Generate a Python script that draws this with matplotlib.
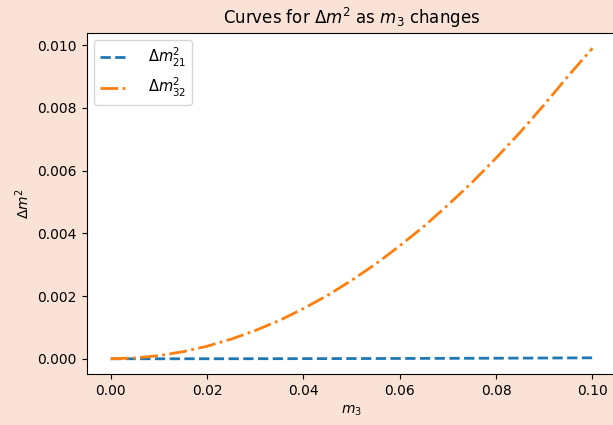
import matplotlib
matplotlib.use('Agg')
import matplotlib.pyplot as plt

# m3 values (x axis) and the two mass-squared differences
m3 = [0.000, 0.005, 0.010, 0.015, 0.020, 0.025, 0.030, 0.035, 0.040, 0.045, 0.050,
      0.055, 0.060, 0.065, 0.070, 0.075, 0.080, 0.085, 0.090, 0.095, 0.100]
dm21 = [0.0, 0.0, 0.0, 0.0, 0.0, 0.000001, 0.000002, 0.000003, 0.000004, 0.000005, 0.000007,
        0.000008, 0.00001, 0.000012, 0.000014, 0.000016, 0.000018, 0.000021, 0.000024, 0.000027, 0.00003]
dm32 = [0.0, 0.000025, 0.0001, 0.000225, 0.0004, 0.000625, 0.0009, 0.00122, 0.0016, 0.00202, 0.0025,
        0.00302, 0.0036, 0.00422, 0.0049, 0.00562, 0.0064, 0.00722, 0.0081, 0.00902, 0.0099]

fig = plt.figure(figsize=(6.13, 4.25), dpi=100, facecolor='#fae3d6')
ax = fig.add_axes([0.1414, 0.1193, 0.8643, 0.8038])

ax.plot(m3, dm21, '--', color='tab:blue', linewidth=2, label=r'$\Delta m^2_{21}$')
ax.plot(m3, dm32, '-.', color='tab:orange', linewidth=2, label=r'$\Delta m^2_{32}$')

ax.set_title(r'Curves for $\Delta m^2$ as $m_3$ changes')
ax.set_xlabel(r'$m_3$')
ax.set_ylabel(r'$\Delta m^2$')
ax.legend(loc='upper left', handletextpad=1.3, fontsize=10.5)

fig.savefig('out.png', dpi=100, facecolor=fig.get_facecolor())
